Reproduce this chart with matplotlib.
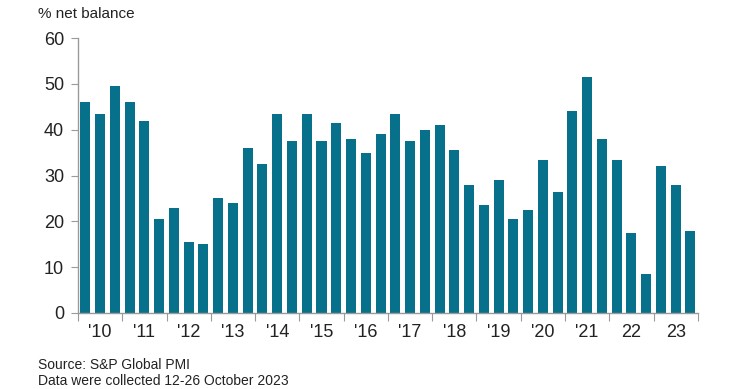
import matplotlib
matplotlib.use("Agg")
import matplotlib.pyplot as plt
from matplotlib.ticker import FixedLocator

years = ["'10", "'11", "'12", "'13", "'14", "'15", "'16", "'17", "'18", "'19", "'20", "'21", "22", "23"]
# three survey rounds per year (Feb, Jun, Oct)
balance = [46.0, 43.5, 49.5,
           46.0, 42.0, 20.5,
           23.0, 15.5, 15.0,
           25.0, 24.0, 36.0,
           32.5, 43.5, 37.5,
           43.5, 37.5, 41.5,
           38.0, 35.0, 39.0,
           43.5, 37.5, 40.0,
           41.0, 35.5, 28.0,
           23.5, 29.0, 20.5,
           22.5, 33.5, 26.5,
           44.0, 51.5, 38.0,
           33.5, 17.5, 8.5,
           32.0, 28.0, 18.0]

bar_color = "#07708b"
axis_color = "#9a9a9a"
narrow = ["Liberation Sans Narrow", "Liberation Sans", "DejaVu Sans"]

fig = plt.figure(figsize=(7.4, 3.89), dpi=100)
ax = fig.add_axes([0.1054, 0.1954, 0.8376, 0.7066])

x = list(range(len(balance)))
ax.bar(x, balance, width=0.68, color=bar_color)

ax.set_xlim(-0.5, len(balance) - 0.5)
ax.set_ylim(0, 60)
ax.set_yticks([0, 10, 20, 30, 40, 50, 60])

# year boundaries as tick marks, labels centred under each year
bounds = [i * 3 - 0.5 for i in range(len(years) + 1)]
centres = [i * 3 + 1 for i in range(len(years))]
ax.xaxis.set_major_locator(FixedLocator(bounds))
ax.xaxis.set_minor_locator(FixedLocator(centres))
ax.set_xticklabels([""] * len(bounds))
ax.set_xticklabels(years, minor=True)
ax.tick_params(axis="x", which="major", length=6, color=axis_color, direction="out")
ax.tick_params(axis="x", which="minor", length=0, pad=8, labelsize=13)
ax.tick_params(axis="y", length=5, color=axis_color, pad=5, labelsize=13)
for lab in ax.get_xticklabels(minor=True) + ax.get_yticklabels():
    lab.set_family(narrow)
    lab.set_color("#222222")

for s in ["top", "right"]:
    ax.spines[s].set_visible(False)
for s in ["left", "bottom"]:
    ax.spines[s].set_color(axis_color)
    ax.spines[s].set_linewidth(1.0)

fig.text(38 / 740, 1 - 14 / 389, "% net balance", fontsize=11, va="center", ha="left",
         color="#222222", family=["Liberation Sans", "DejaVu Sans"])
fig.text(38 / 740, 1 - 365 / 389, "Source: S&P Global PMI", fontsize=10, va="center",
         ha="left", color="#222222", family=narrow)
fig.text(38 / 740, 1 - 381 / 389, "Data were collected 12-26 October 2023", fontsize=10,
         va="center", ha="left", color="#222222", family=narrow)

fig.savefig("out.png", dpi=100)
